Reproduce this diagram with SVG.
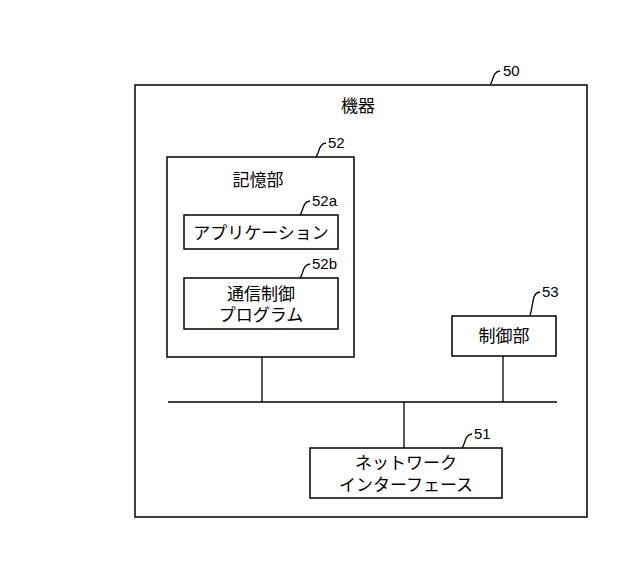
<svg xmlns="http://www.w3.org/2000/svg" width="640" height="566" viewBox="0 0 640 566">
<style>
.b{fill:#fff;stroke:#000;stroke-width:1.5}
.l{fill:none;stroke:#000;stroke-width:1.3}
text{font-family:"Liberation Sans","Noto Sans CJK JP",sans-serif;font-size:17px;fill:#000}
.n{font-size:15px}
.c{text-anchor:middle}
</style>
<rect width="640" height="566" fill="#fff"/>
<g id="device"><rect class="b" x="135" y="85" width="452" height="432"/><text class="c" x="358" y="112">機器</text>
<path class="l" d="M490,85 C494,80 492,72 500,71"/><text class="n" x="503" y="76">50</text></g>
<g id="storage"><rect class="b" x="167" y="157" width="187" height="200"/><text class="c" x="258" y="186">記憶部</text>
<path class="l" d="M316,157 C320,152 318,144 326,143"/><text class="n" x="328" y="148">52</text></g>
<g id="app"><rect class="b" x="184" y="215" width="154" height="34"/><text class="c" x="261" y="239">アプリケーション</text>
<path class="l" d="M300,215 C304,210 302,202 310,201"/><text class="n" x="312" y="206">52a</text></g>
<g id="comm"><rect class="b" x="184" y="278" width="154" height="51"/><text class="c" x="261" y="300">通信制御</text><text class="c" x="261" y="321">プログラム</text>
<path class="l" d="M300,278 C304,273 302,265 310,264"/><text class="n" x="312" y="269">52b</text></g>
<g id="control"><rect class="b" x="452" y="316" width="104" height="40"/><text class="c" x="504" y="342">制御部</text>
<path class="l" d="M530,316 C534,301 532,293 540,292"/><text class="n" x="542" y="297">53</text></g>
<g id="netif"><rect class="b" x="310" y="448" width="192" height="50"/><text class="c" x="406" y="469">ネットワーク</text><text class="c" x="406" y="491">インターフェース</text>
<path class="l" d="M462,448 C466,443 464,435 472,434"/><text class="n" x="474" y="439">51</text></g>
<g id="connectors" class="l"><line x1="168" y1="402" x2="557" y2="402"/><line x1="262" y1="357" x2="262" y2="402"/><line x1="503" y1="356" x2="503" y2="402"/><line x1="404" y1="402" x2="404" y2="448"/></g>
</svg>
